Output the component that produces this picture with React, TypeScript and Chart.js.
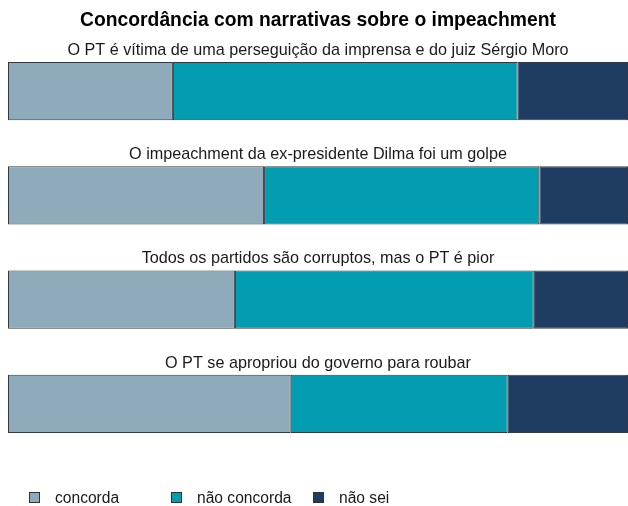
import React, { useEffect, useRef } from "react";
import { Chart, registerables } from "chart.js";

Chart.register(...registerables);

const chartTitle = "Concordância com narrativas sobre o impeachment";
const statements = [
  "O PT é vítima de uma perseguição da imprensa e do juiz Sérgio Moro",
  "O impeachment da ex-presidente Dilma foi um golpe",
  "Todos os partidos são corruptos, mas o PT é pior",
  "O PT se apropriou do governo para roubar",
];
const seriesNames = ["concorda", "não concorda", "não sei"];
const concorda = [26.6, 41.3, 36.6, 45.6];
const naoConcorda = [55.6, 44.4, 48.2, 35.0];
const naoSei = [17.8, 14.3, 15.2, 19.4];
const seriesColors = ["#8faabb", "#039db2", "#1f3d63"];

const FONT = "'Liberation Sans', Arial, sans-serif";

const overlayPlugin = {
  id: "overlay",
  afterDraw(chart: any) {
    const { ctx, chartArea } = chart;
    const cx = (chartArea.left + chartArea.right) / 2;
    ctx.save();
    // main title
    ctx.fillStyle = "#000";
    ctx.textAlign = "center";
    ctx.textBaseline = "alphabetic";
    ctx.font = `bold 19.3px ${FONT}`;
    ctx.fillText(chartTitle, cx, 26);
    // subtitles
    ctx.font = `16.2px ${FONT}`;
    ctx.fillStyle = "#1a1a1a";
    const meta = chart.getDatasetMeta(0);
    statements.forEach((s, i) => {
      const el = meta.data[i];
      const top = el.y - el.height / 2;
      ctx.fillText(s, cx, top - 7);
    });
    // legend
    const xs = [29, 171, 313];
    ctx.textAlign = "left";
    ctx.font = `15.6px ${FONT}`;
    seriesNames.forEach((n, i) => {
      ctx.fillStyle = seriesColors[i];
      ctx.fillRect(xs[i], 492, 10, 10);
      ctx.strokeStyle = "#333";
      ctx.lineWidth = 1;
      ctx.strokeRect(xs[i] + 0.5, 492.5, 10, 10);
      ctx.fillStyle = "#1a1a1a";
      ctx.fillText(n, xs[i] + 26, 503);
    });
    ctx.restore();
  },
};

export default function App() {
  const ref = useRef<HTMLCanvasElement>(null);
  useEffect(() => {
    const datasets = [concorda, naoConcorda, naoSei].map((d, i) => ({
      label: seriesNames[i],
      data: d,
      backgroundColor: seriesColors[i],
      borderColor: "#34393f",
      borderWidth: 1,
      borderSkipped: false,
      categoryPercentage: 1,
      barPercentage: 0.56,
    }));
    const chart = new Chart(ref.current!, {
      type: "bar",
      data: { labels: statements, datasets },
      options: {
        indexAxis: "y",
        animation: false,
        responsive: false,
        layout: { padding: { left: 8, right: 0, top: 39, bottom: 50 } },
        plugins: { legend: { display: false }, title: { display: false }, tooltip: { enabled: false } },
        scales: {
          x: { stacked: true, min: 0, max: 100, display: false },
          y: { stacked: true, display: false },
        },
      },
      plugins: [overlayPlugin],
    });
    return () => chart.destroy();
  }, []);
  return (
    <div style={{ position: "fixed", left: 0, top: 0, width: 628, height: 506, background: "#fff" }}>
      <canvas ref={ref} width={628} height={506} style={{ width: 628, height: 506 }} />
    </div>
  );
}
